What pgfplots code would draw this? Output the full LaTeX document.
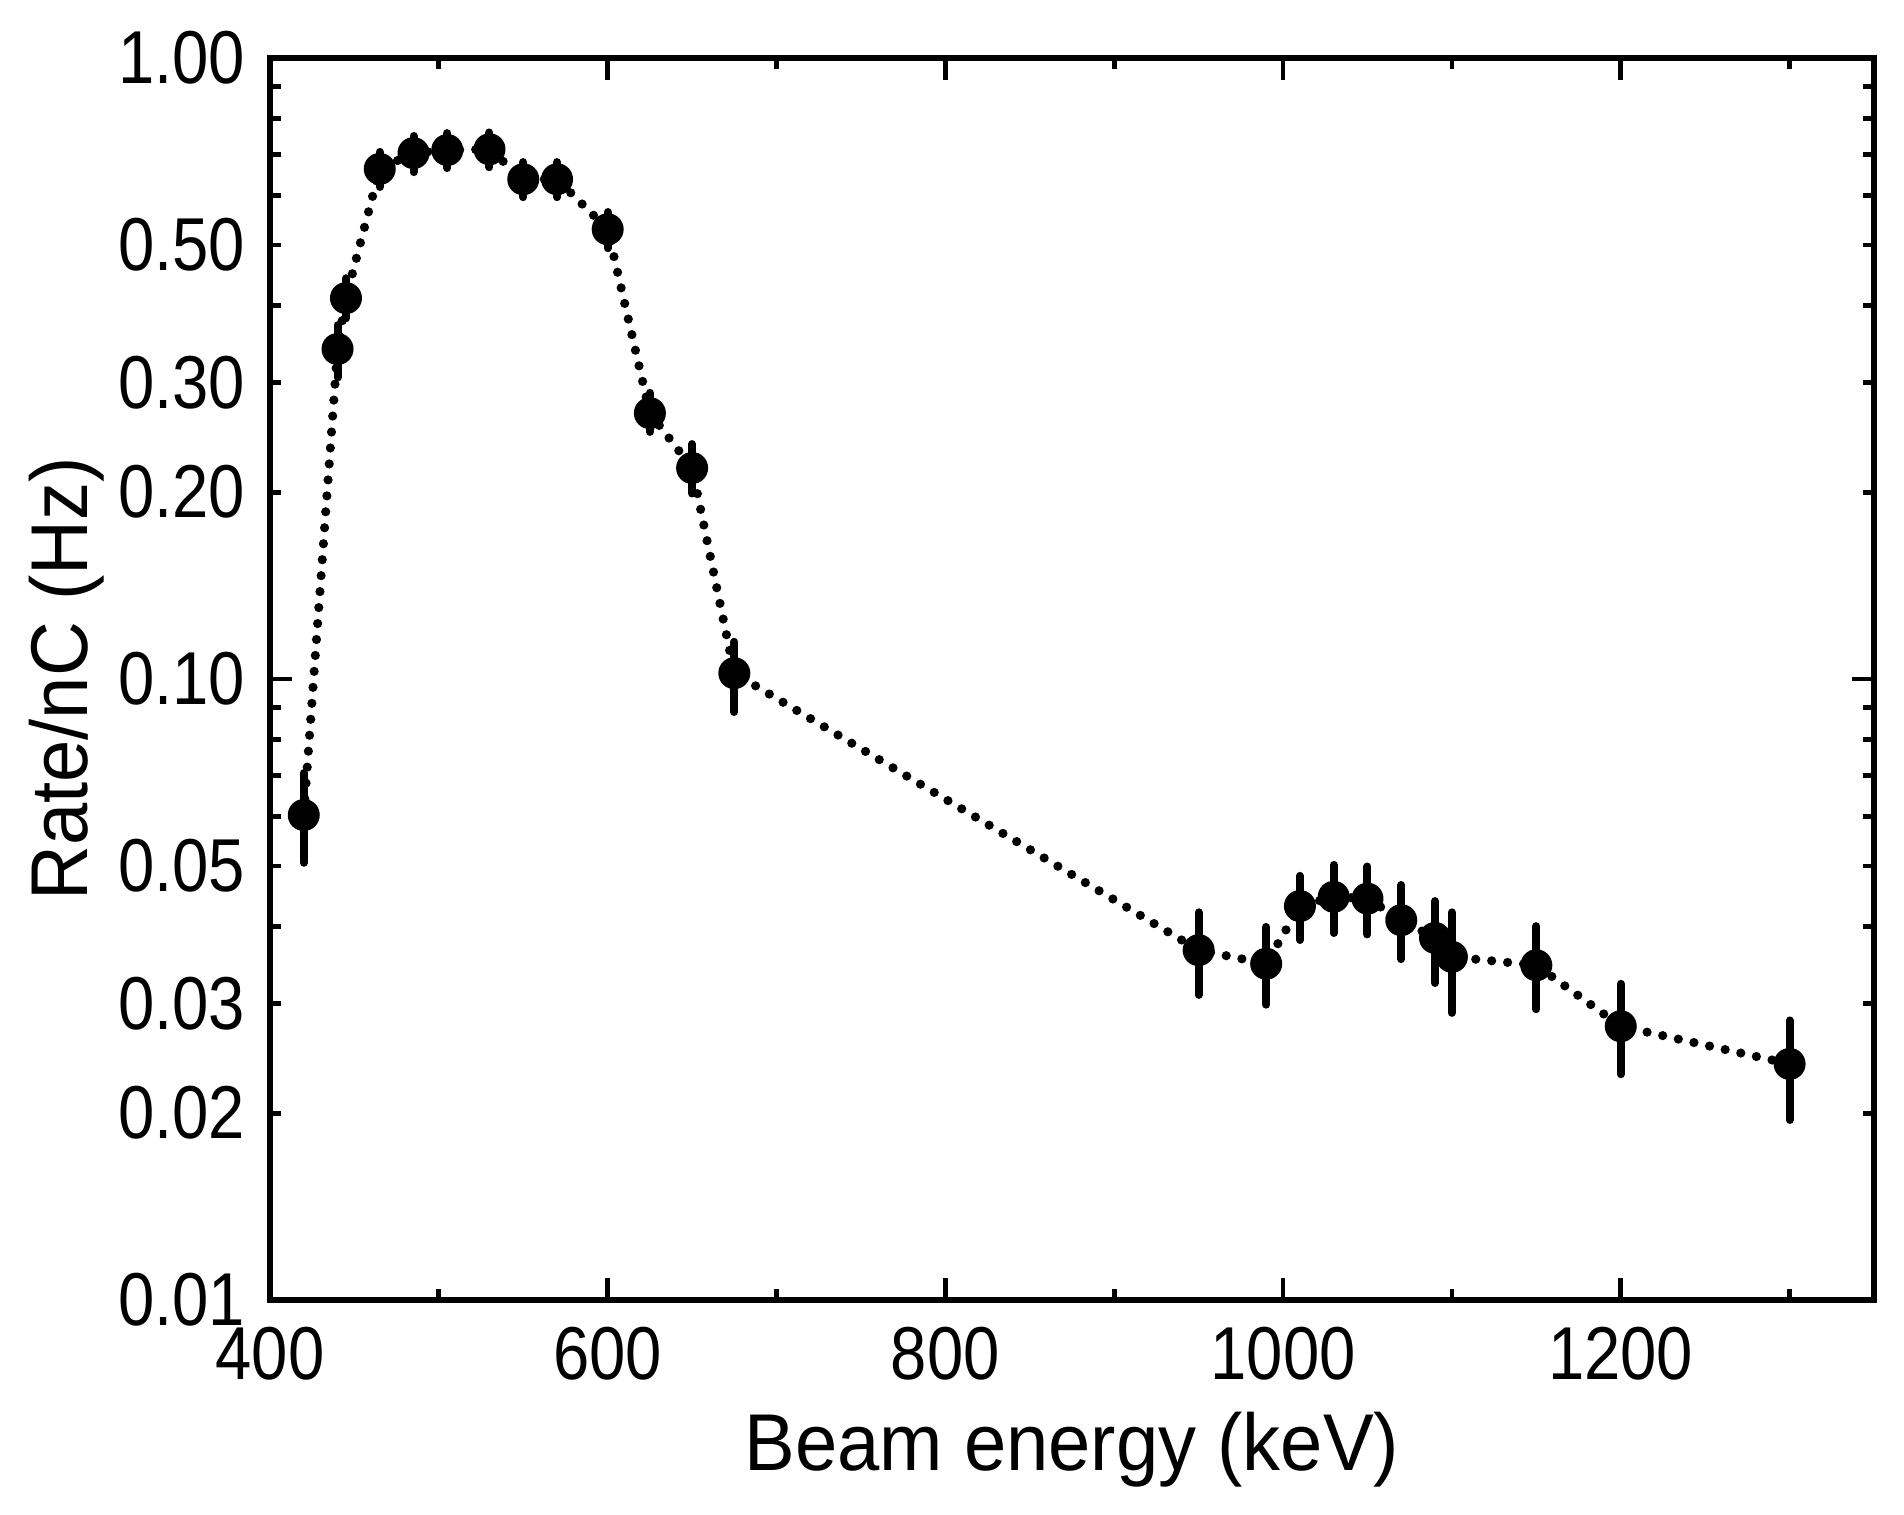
\documentclass[border=0pt]{standalone}
\usepackage{pgfplots}
\pgfplotsset{compat=1.18}
\usepackage{pgfplotstable}
\usepackage{graphicx}
\usepackage{fontspec}
\setmainfont{Liberation Sans}
\newcommand{\tl}[1]{\scalebox{1}[1.15]{#1}}
\pgfplotstableread{
e r ep em
420 0.0604 0.0102 0.0098
440 0.340 0.0315 0.034
445 0.4106 0.0314 0.0296
465 0.663 0.043 0.043
485 0.703 0.046 0.048
505 0.711 0.046 0.046
530 0.713 0.046 0.046
550 0.638 0.042 0.041
570 0.638 0.042 0.041
600 0.530 0.035 0.036
625 0.268 0.021 0.018
650 0.2187 0.0203 0.0197
675 0.1022 0.0126 0.0137
950 0.0366 0.0055 0.0056
990 0.0348 0.0051 0.0049
1010 0.0431 0.0051 0.0051
1030 0.0446 0.0056 0.0056
1050 0.0443 0.0056 0.0055
1070 0.0409 0.0057 0.0055
1090 0.0383 0.0056 0.0059
1100 0.0357 0.0064 0.0067
1150 0.0346 0.0054 0.0052
1200 0.0276 0.0047 0.0045
1300 0.0240 0.0042 0.0045
}\datatable
\begin{document}
\begin{tikzpicture}
\useasboundingbox (-67.5pt,-53.5pt) rectangle (408.5pt,325pt);
\begin{axis}[
  scale only axis,
  width=401pt, height=310.5pt,
  xmin=400, xmax=1350,
  ymode=log, ymin=0.01, ymax=1,
  axis line style={line width=1.3pt},
  tick style={line width=1.2pt, black},
  major tick length=5.5pt,
  minor tick length=2.75pt,
  tick align=inside,
  xtick={400,600,800,1000,1200},
  xticklabels={\tl{400},\tl{600},\tl{800},\tl{1000},\tl{1200}},
  minor xtick={500,700,900,1100,1300},
  ytick={0.01,0.1,1},
  yticklabels={\tl{0.01},\tl{0.10},\tl{1.00}},
  extra y ticks={0.02,0.03,0.05,0.2,0.3,0.5},
  extra y tick labels={\tl{0.02},\tl{0.03},\tl{0.05},\tl{0.20},\tl{0.30},\tl{0.50}},
  extra y tick style={major tick length=2.75pt, tick style={line width=1.2pt, black}},
  minor ytick={0.04,0.06,0.07,0.08,0.09,0.4,0.6,0.7,0.8,0.9},
  ticklabel style={font=\fontsize{16.3}{16.3}\selectfont},
  yticklabel style={inner sep=0pt, xshift=-6pt},
  xticklabel style={inner sep=0pt, yshift=-6.5pt},
  xlabel={\scalebox{1}[1.06]{Beam energy (keV)}},
  ylabel={\scalebox{1}[1.06]{Rate/nC (Hz)}},
  label style={font=\fontsize{19}{19}\selectfont},
  xlabel style={at={(axis description cs:0.5,-0.137)}, anchor=base},
  ylabel style={at={(axis description cs:-0.127,0.5)}, anchor=center, rotate=0},
]
\addplot[black, line width=2.3pt, line cap=round, dash pattern=on 0pt off 4pt] table[x=e, y=r] {\datatable};
\addplot[black, only marks, mark=*, mark size=3.8pt, mark options={solid, fill=black},
  error bars/.cd, y dir=both, y explicit,
  error bar style={solid, line width=2pt, line cap=round},
  error mark=none]
  table[x=e, y=r, y error plus=ep, y error minus=em] {\datatable};
\end{axis}
\end{tikzpicture}
\end{document}
